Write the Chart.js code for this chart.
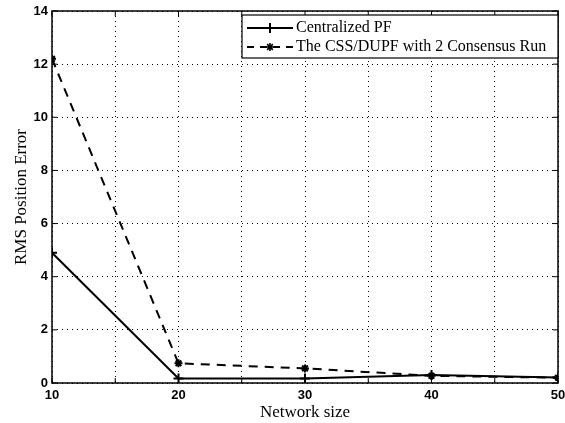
<!DOCTYPE html>
<html>
<head>
<meta charset="utf-8">
<script src="https://cdn.jsdelivr.net/npm/chart.js@4/dist/chart.umd.min.js"></script>
<style>
  html, body { margin: 0; padding: 0; background: #fff; }
  #wrap { width: 565px; height: 423px; }
</style>
</head>
<body>
<div id="wrap"><canvas id="c" width="565" height="423"></canvas></div>
<script>
// Network sizes and RMS position error for each estimator
const networkSizes = [10, 20, 30, 40, 50];
const centralizedPF = [4.9, 0.17, 0.17, 0.3, 0.21];
const cssDupf = [12.2, 0.74, 0.55, 0.27, 0.2];
const seriesNames = ['Centralized PF', 'The CSS/DUPF with 2 Consensus Run'];
const yTicks = [0, 2, 4, 6, 8, 10, 12, 14];

const tickFont = { family: '"Liberation Sans", Arial, sans-serif', size: 13, weight: 'bold' };
const serif = '"Liberation Serif", "Times New Roman", serif';

// Box frame, inward tick marks on all sides and the legend box
const framePlugin = {
  id: 'frame',
  afterDatasetsDraw(chart) {
    const { ctx, chartArea: a, scales: { x, y } } = chart;
    ctx.save();
    ctx.strokeStyle = '#000';
    ctx.lineWidth = 1.5;
    ctx.strokeRect(a.left, a.top, a.right - a.left, a.bottom - a.top);
    ctx.lineWidth = 1;
    ctx.beginPath();
    for (let v = 10; v <= 50; v += 5) {
      const px = x.getPixelForValue(v);
      ctx.moveTo(px, a.bottom); ctx.lineTo(px, a.bottom - 5);
      ctx.moveTo(px, a.top); ctx.lineTo(px, a.top + 5);
    }
    for (const v of yTicks) {
      const py = y.getPixelForValue(v);
      ctx.moveTo(a.left, py); ctx.lineTo(a.left + 5, py);
      ctx.moveTo(a.right, py); ctx.lineTo(a.right - 5, py);
    }
    ctx.stroke();

    // legend
    const bx = 242, by = 15, bw = 316, bh = 43;
    ctx.fillStyle = '#fff';
    ctx.fillRect(bx, by, bw, bh);
    ctx.lineWidth = 1.2;
    ctx.strokeRect(bx, by, bw, bh);
    const rows = [by + 13, by + 32];
    ctx.lineWidth = 2;
    // solid sample with plus marker
    ctx.beginPath();
    ctx.moveTo(247, rows[0]); ctx.lineTo(293, rows[0]);
    ctx.moveTo(270, rows[0] - 5); ctx.lineTo(270, rows[0] + 5);
    ctx.stroke();
    // dashed sample with star marker
    ctx.beginPath();
    ctx.setLineDash([7, 6]);
    ctx.moveTo(247, rows[1]); ctx.lineTo(293, rows[1]);
    ctx.stroke();
    ctx.setLineDash([]);
    ctx.lineWidth = 1.6;
    ctx.beginPath();
    for (let k = 0; k < 4; k++) {
      const ang = k * Math.PI / 4;
      ctx.moveTo(270 - 4 * Math.cos(ang), rows[1] - 4 * Math.sin(ang));
      ctx.lineTo(270 + 4 * Math.cos(ang), rows[1] + 4 * Math.sin(ang));
    }
    ctx.stroke();
    ctx.fillStyle = '#000';
    ctx.font = '16px ' + serif;
    ctx.textBaseline = 'middle';
    ctx.textAlign = 'left';
    ctx.fillText(seriesNames[0], 296, rows[0]);
    ctx.fillText(seriesNames[1], 296, rows[1]);
    ctx.restore();
  }
};

new Chart(document.getElementById('c'), {
  type: 'line',
  data: {
    datasets: [
      {
        label: seriesNames[0],
        data: networkSizes.map((n, i) => ({ x: n, y: centralizedPF[i] })),
        borderColor: '#000',
        backgroundColor: '#000',
        borderWidth: 2,
        pointStyle: 'cross',
        pointRadius: 5,
        pointBorderWidth: 2,
        tension: 0
      },
      {
        label: seriesNames[1],
        data: networkSizes.map((n, i) => ({ x: n, y: cssDupf[i] })),
        borderColor: '#000',
        backgroundColor: '#000',
        borderWidth: 2,
        borderDash: [9, 7],
        pointStyle: 'star',
        pointRadius: 4,
        pointBorderWidth: 2,
        tension: 0
      }
    ]
  },
  options: {
    responsive: false,
    animation: false,
    devicePixelRatio: 1,
    layout: { padding: { top: 11, right: 3, left: 11, bottom: 0 } },
    plugins: { legend: { display: false }, tooltip: { enabled: false } },
    scales: {
      x: {
        type: 'linear',
        min: 10, max: 50,
        border: { display: false, dash: [1, 4] },
        grid: { color: '#000', lineWidth: 1, drawTicks: false },
        ticks: {
          stepSize: 5,
          autoSkip: false,
          maxRotation: 0,
          color: '#000',
          font: tickFont,
          padding: 5,
          callback: v => (v % 10 === 0 ? String(v) : '')
        },
        title: { display: true, text: 'Network size', color: '#000', font: { family: serif, size: 17 }, padding: { top: 0, bottom: 0 } },
        afterFit(s) { s.height = 40; s.paddingRight = 0; s.paddingLeft = 0; }
      },
      y: {
        min: 0, max: 14,
        border: { display: false, dash: [1, 4] },
        grid: { color: '#000', lineWidth: 1, drawTicks: false },
        afterBuildTicks(s) { s.ticks = yTicks.map(v => ({ value: v })); },
        ticks: { color: '#000', font: tickFont, padding: 4 },
        title: { display: true, text: 'RMS Position Error', color: '#000', font: { family: serif, size: 17 }, padding: { top: 0, bottom: 0 } },
        afterFit(s) { s.width = 41; s.paddingTop = 0; s.paddingBottom = 0; }
      }
    }
  },
  plugins: [framePlugin]
});
</script>
</body>
</html>
